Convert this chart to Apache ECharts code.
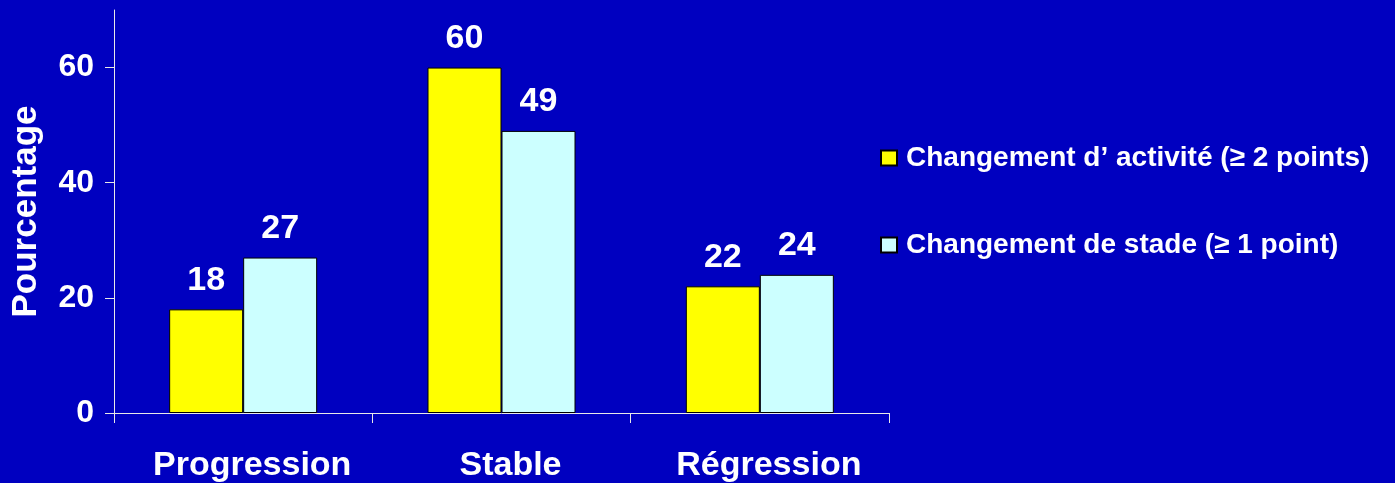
<!DOCTYPE html>
<html>
<head>
<meta charset="utf-8">
<script src="https://cdn.jsdelivr.net/npm/echarts@6/dist/echarts.min.js"></script>
<style>
  html, body { margin: 0; padding: 0; background: #0000C0; }
  #chart { width: 1395px; height: 483px; }
</style>
</head>
<body>
<div id="chart"></div>
<script>
// Categories and series values
const categories = ['Progression', 'Stable', 'Régression'];
const activite = [18, 60, 22];
const stade = [27, 49, 24];
const seriesNames = ['Changement d’ activité (≥ 2 points)', 'Changement de stade (≥ 1 point)'];
const yTicks = [0, 20, 40, 60];

const FONT = '"Liberation Sans", Arial, sans-serif';
const chart = echarts.init(document.getElementById('chart'));

const valueLabel = {
  show: true,
  position: 'top',
  distance: 12,
  color: '#FFFFFF',
  fontFamily: FONT,
  fontWeight: 'bold',
  fontSize: 34
};

chart.setOption({
  backgroundColor: '#0000C0',
  animation: false,
  grid: { left: 114, right: 506, top: 10, bottom: 68 },
  legend: {
    orient: 'vertical',
    left: 880,
    top: 144,
    padding: 0,
    itemWidth: 16,
    itemHeight: 15,
    itemGap: 59,
    icon: 'rect',
    textStyle: {
      color: '#FFFFFF',
      fontFamily: FONT,
      fontWeight: 'bold',
      fontSize: 28,
      padding: [0, 0, 0, 4]
    },
    data: seriesNames
  },
  xAxis: {
    type: 'category',
    data: categories,
    axisLine: { lineStyle: { color: '#E8E8E8', width: 1 } },
    axisTick: { show: true, length: 10, lineStyle: { color: '#E8E8E8' } },
    axisLabel: {
      color: '#FFFFFF',
      fontFamily: FONT,
      fontWeight: 'bold',
      fontSize: 34,
      margin: 36,
      padding: [0, 0, 0, 18]
    }
  },
  yAxis: {
    type: 'value',
    min: 0,
    max: 70,
    interval: 10,
    name: 'Pourcentage',
    nameLocation: 'middle',
    nameGap: 70,
    nameTextStyle: {
      color: '#FFFFFF',
      fontFamily: FONT,
      fontWeight: 'bold',
      fontSize: 35
    },
    splitLine: { show: false },
    axisLine: { show: true, lineStyle: { color: '#E8E8E8', width: 1 } },
    axisTick: { show: true, length: 9, customValues: yTicks, lineStyle: { color: '#E8E8E8' } },
    axisLabel: {
      customValues: yTicks,
      color: '#FFFFFF',
      fontFamily: FONT,
      fontWeight: 'bold',
      fontSize: 32,
      margin: 20
    }
  },
  series: [
    {
      name: seriesNames[0],
      type: 'bar',
      data: activite,
      barWidth: 74,
      barGap: '0%',
      itemStyle: { color: '#FFFF00', borderColor: '#000000', borderWidth: 1 },
      label: valueLabel
    },
    {
      name: seriesNames[1],
      type: 'bar',
      data: stade,
      barWidth: 74,
      barGap: '0%',
      itemStyle: { color: '#CCFFFF', borderColor: '#000000', borderWidth: 1 },
      label: valueLabel
    }
  ]
});
</script>
</body>
</html>
